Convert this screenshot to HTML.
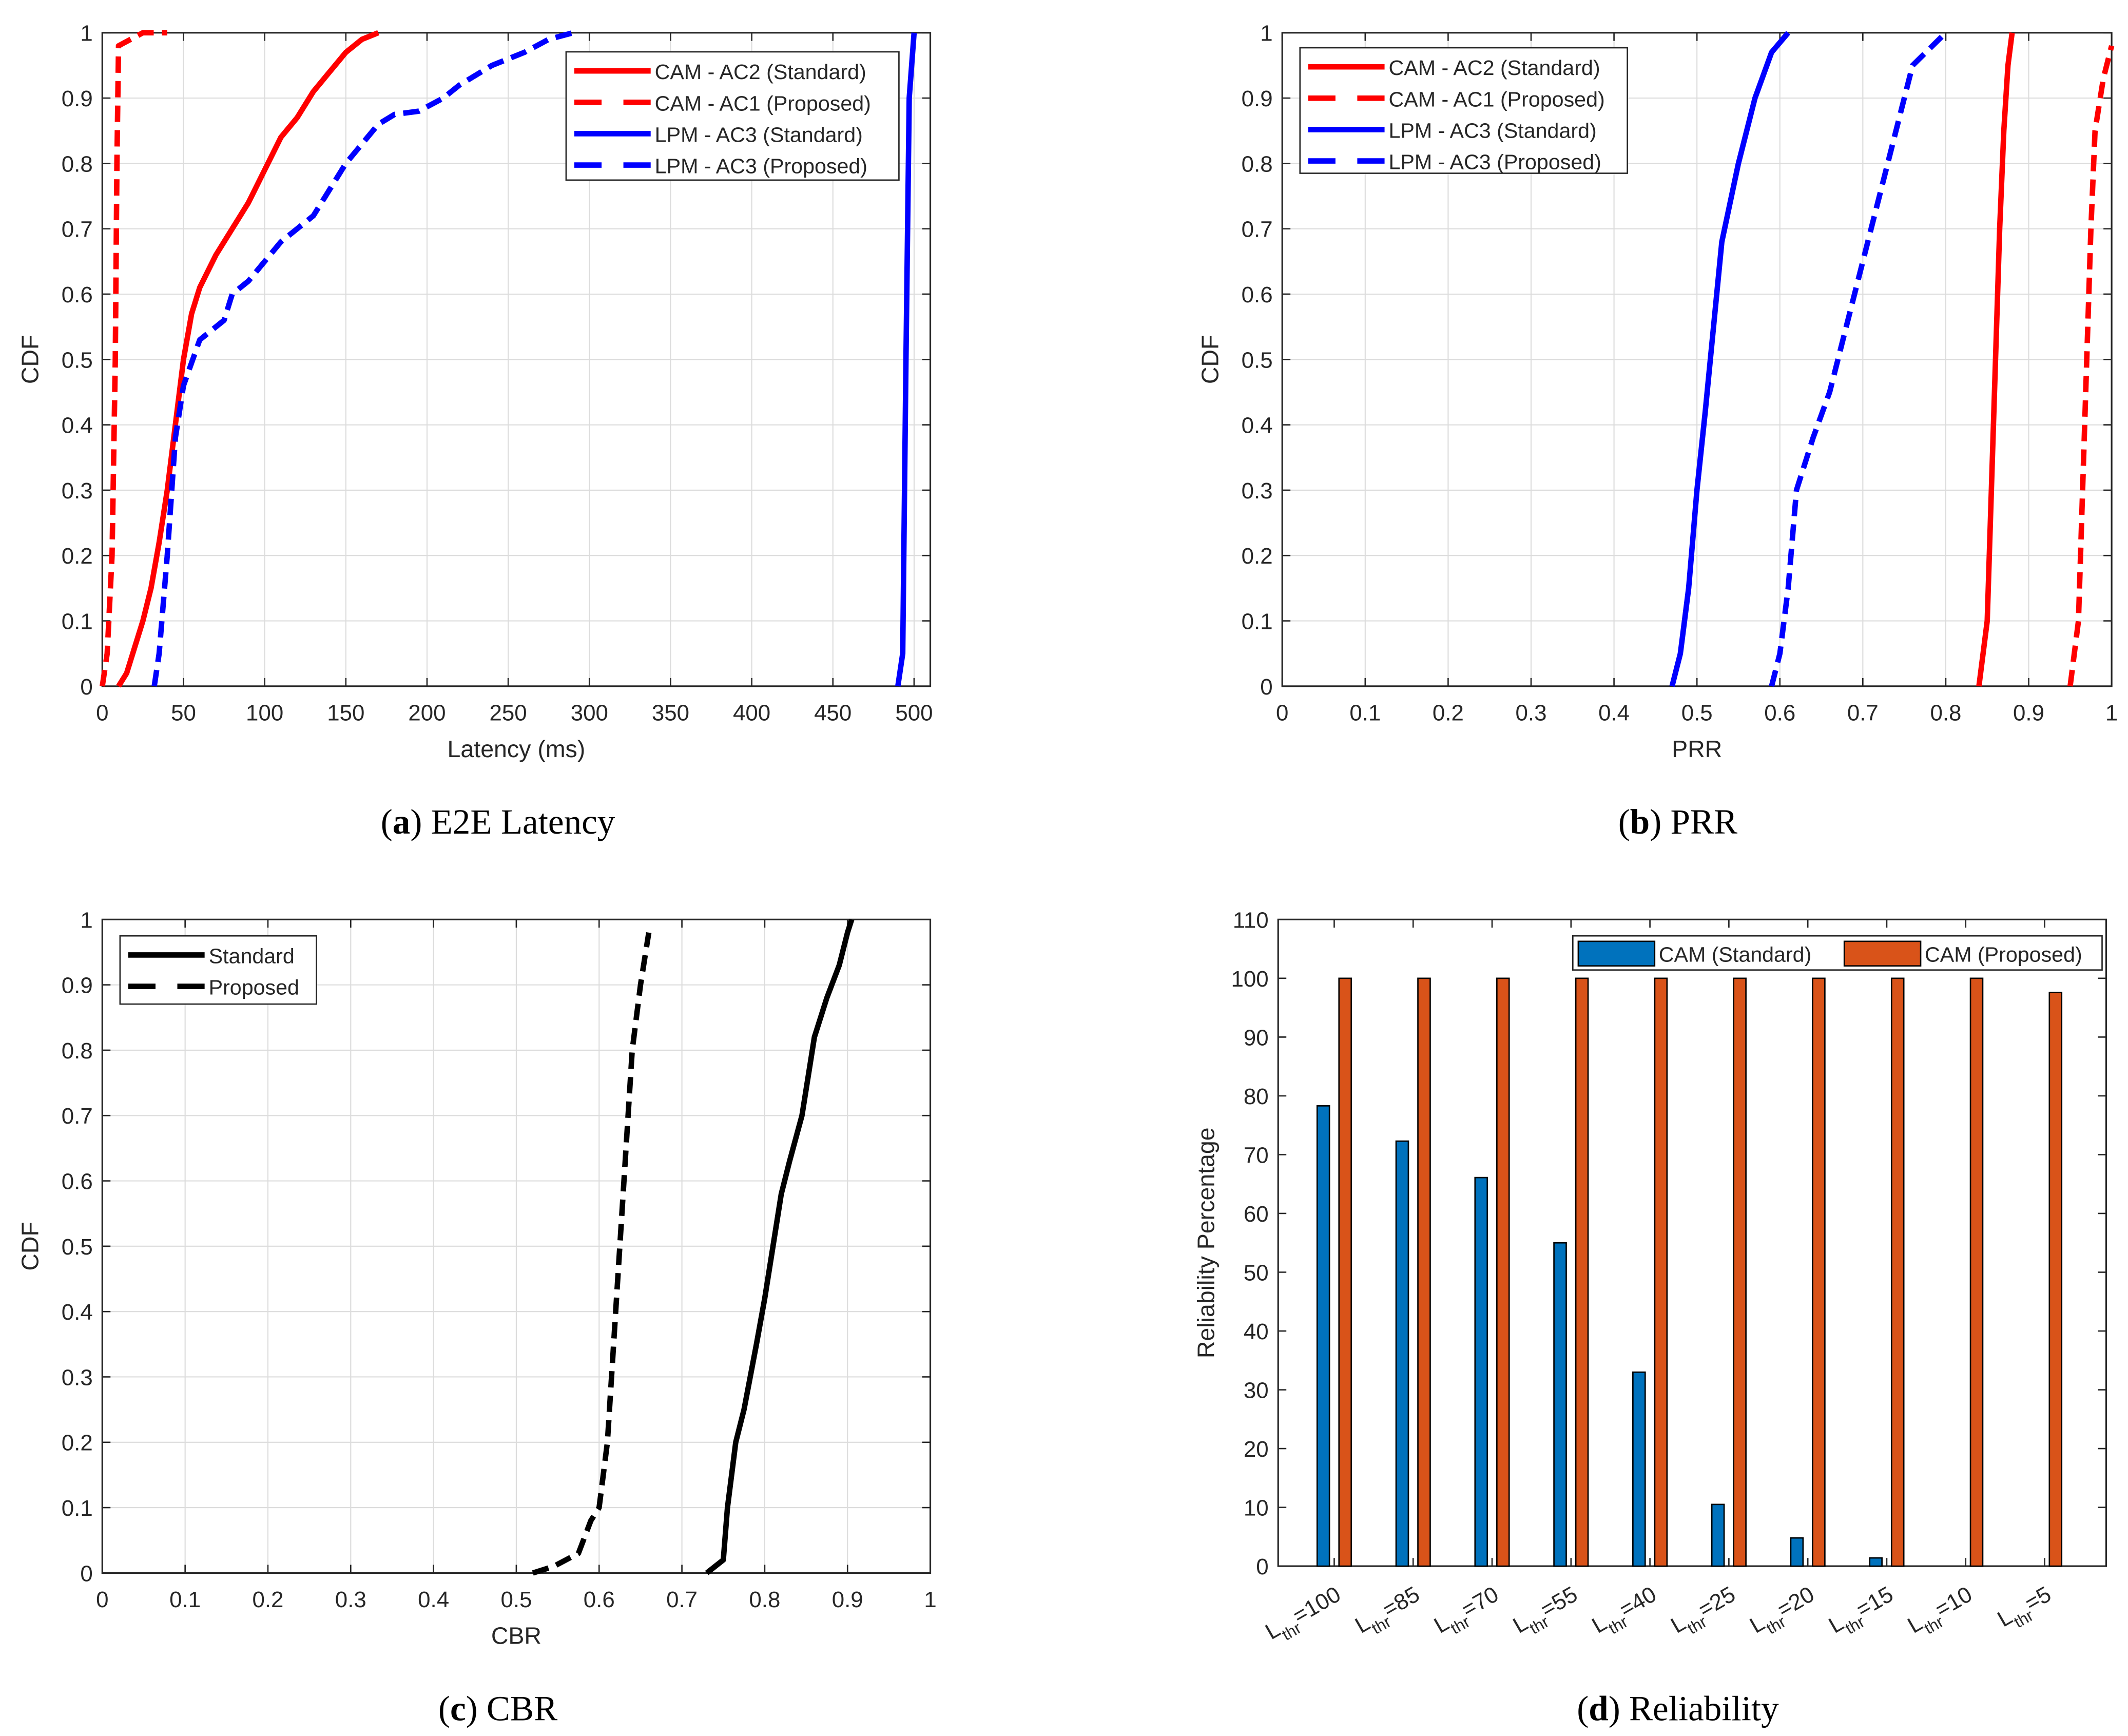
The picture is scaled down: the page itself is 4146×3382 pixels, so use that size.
<!DOCTYPE html>
<html><head><meta charset="utf-8"><style>
html,body{margin:0;padding:0;background:#fff;}
svg{display:block;}
text{font-family:"Liberation Sans",sans-serif;fill:#262626;}
.cap{font-family:"Liberation Serif",serif;fill:#000;font-size:26px;}
</style></head><body>
<svg id="fig" width="4146" height="3382" viewBox="0 0 1560 1272.5" preserveAspectRatio="none" xmlns="http://www.w3.org/2000/svg">
<text class="cap" x="365" y="611" text-anchor="middle">(<tspan font-weight="bold">a</tspan>) E2E Latency</text>
<text class="cap" x="1230" y="611" text-anchor="middle">(<tspan font-weight="bold">b</tspan>) PRR</text>
<text class="cap" x="365" y="1261" text-anchor="middle">(<tspan font-weight="bold">c</tspan>) CBR</text>
<text class="cap" x="1230" y="1261" text-anchor="middle">(<tspan font-weight="bold">d</tspan>) Reliability</text>
</svg>
<script>
// ---- data (a) latency ----
const aStdX=[10,15,20,25,30,35,40,45,50,55,60,70,80,90,100,110,120,130,140,150,160,170];
const aStdY=[0,0.02,0.06,0.1,0.15,0.22,0.3,0.4,0.5,0.57,0.61,0.66,0.7,0.74,0.79,0.84,0.87,0.91,0.94,0.97,0.99,1];
const aPropX=[0,3,6,8,9,10,25,40];
const aPropY=[0,0.05,0.2,0.5,0.8,0.98,1,1];
const aLpmStdX=[490,493,495,497,500];
const aLpmStdY=[0,0.05,0.5,0.9,1];
const aLpmPropX=[32,35,40,45,50,60,75,80,90,100,110,120,130,140,150,160,170,180,195,210,220,240,260,275,290];
const aLpmPropY=[0,0.05,0.2,0.38,0.46,0.53,0.56,0.6,0.62,0.65,0.68,0.7,0.72,0.76,0.8,0.83,0.86,0.875,0.88,0.9,0.92,0.95,0.97,0.99,1];
// ---- data (b) PRR ----
const bLpmStdX=[0.47,0.48,0.49,0.5,0.51,0.52,0.53,0.55,0.57,0.59,0.61];
const bLpmStdY=[0,0.05,0.15,0.3,0.42,0.55,0.68,0.8,0.9,0.97,1];
const bLpmPropX=[0.59,0.6,0.61,0.62,0.64,0.66,0.68,0.7,0.72,0.74,0.76,0.8];
const bLpmPropY=[0,0.05,0.15,0.3,0.38,0.45,0.55,0.65,0.75,0.85,0.95,1];
const bCamStdX=[0.84,0.85,0.855,0.86,0.865,0.87,0.875,0.88];
const bCamStdY=[0,0.1,0.3,0.5,0.7,0.85,0.95,1];
const bCamPropX=[0.95,0.96,0.965,0.97,0.975,0.98,0.99,1.0];
const bCamPropY=[0,0.1,0.3,0.5,0.7,0.85,0.93,0.98];
// ---- data (c) CBR ----
const cStdX=[0.73,0.75,0.755,0.765,0.775,0.79,0.8,0.81,0.82,0.83,0.845,0.855,0.86,0.875,0.89,0.9,0.905];
const cStdY=[0,0.02,0.1,0.2,0.25,0.35,0.42,0.5,0.58,0.63,0.7,0.78,0.82,0.88,0.93,0.98,1];
const cPropX=[0.52,0.545,0.575,0.59,0.6,0.61,0.615,0.62,0.625,0.63,0.635,0.64,0.65,0.66];
const cPropY=[0,0.01,0.03,0.08,0.1,0.2,0.3,0.4,0.5,0.6,0.7,0.8,0.9,0.98];
// ---- data (d) reliability ----
const dCats=["=100","=85","=70","=55","=40","=25","=20","=15","=10","=5"];
const dStd=[78.3,72.3,66.1,55,33,10.5,4.8,1.4,0,0];
const dProp=[100,100,100,100,100,100,100,100,100,97.6];
const ticksA=[0,50,100,150,200,250,300,350,400,450,500];
const ticks01=[0,0.1,0.2,0.3,0.4,0.5,0.6,0.7,0.8,0.9,1];
const ticksD=[0,10,20,30,40,50,60,70,80,90,100,110];

const NS="http://www.w3.org/2000/svg";
const svg=document.getElementById('fig');
function mk(tag,attrs,parent){const e=document.createElementNS(NS,tag);for(const k in attrs)e.setAttribute(k,attrs[k]);(parent||svg).appendChild(e);return e;}

function axes(name,L,R,T,B,xmin,xmax,ymin,ymax,xt,yt,xlabel,ylabel,opts){
  const g=mk('g',{});
  
  
  const sx=v=>L+(v-xmin)/(xmax-xmin)*(R-L), sy=v=>B-(v-ymin)/(ymax-ymin)*(B-T);
  if(!opts.nogrid){
    xt.forEach(v=>{const l=mk('line',{x1:sx(v),x2:sx(v),y1:T,y2:B,stroke:'#dcdcdc','stroke-width':0.8},g);});
    yt.forEach(v=>{const l=mk('line',{x1:L,x2:R,y1:sy(v),y2:sy(v),stroke:'#dcdcdc','stroke-width':0.8},g);});
  }
  const box=mk('rect',{x:L,y:T,width:R-L,height:B-T,fill:'none',stroke:'#262626','stroke-width':1.2},g);
  
  
  yt.forEach(v=>{
    mk('line',{x1:L,x2:L+6,y1:sy(v),y2:sy(v),stroke:'#262626','stroke-width':1},g);
    mk('line',{x1:R,x2:R-6,y1:sy(v),y2:sy(v),stroke:'#262626','stroke-width':1},g);
    const t=mk('text',{x:L-7,y:sy(v)+6,'text-anchor':'end','font-size':16.5},g);t.textContent=String(v);
    
    
  });
  if(!opts.catx){
    xt.forEach(v=>{
      mk('line',{x1:sx(v),x2:sx(v),y1:B,y2:B-6,stroke:'#262626','stroke-width':1},g);
      mk('line',{x1:sx(v),x2:sx(v),y1:T,y2:T+6,stroke:'#262626','stroke-width':1},g);
      const t=mk('text',{x:sx(v),y:B+25,'text-anchor':'middle','font-size':16.5},g);t.textContent=String(v);
      
      
    });
  }
  if(xlabel){const t=mk('text',{x:(L+R)/2,y:B+52,'text-anchor':'middle','font-size':17.5},g);t.textContent=xlabel;
    
    }
  const yx=opts.ylx||(L-48);
  const t=mk('text',{x:yx,y:(T+B)/2,'text-anchor':'middle','font-size':17.5,transform:`rotate(-90 ${yx} ${(T+B)/2})`},g);t.textContent=ylabel;
  
  
  return {g,sx,sy};
}
function series(ax,xs,ys,color,dash,name){
  const d=xs.map((x,i)=>(i?'L':'M')+ax.sx(x).toFixed(2)+' '+ax.sy(ys[i]).toFixed(2)).join(' ');
  const p=mk('path',{d:d,fill:'none',stroke:color,'stroke-width':4,'stroke-dasharray':dash?'12 6':'none','stroke-linejoin':'round'},ax.g);
  
  
}
function legend(name,x,y,w,h,items){
  const g=mk('g',{});
  
  
  mk('rect',{x:x,y:y,width:w,height:h,fill:'#fff',stroke:'#262626','stroke-width':1},g);
  items.forEach((it,i)=>{
    const yy=y+14+i*23;
    const l=mk('line',{x1:x+6,x2:x+62,y1:yy,y2:yy,stroke:it[1],'stroke-width':4,'stroke-dasharray':it[2]?'20 16':'none'},g);
    
    
    const t=mk('text',{x:x+65,y:yy+6,'font-size':15.5},g);t.textContent=it[0];
    
    
  });
}
// (a)
const A=axes('chart-latency',75,682,24,503,0,510,0,1,ticksA,ticks01,'Latency (ms)','CDF',{ylx:28});
series(A,aStdX,aStdY,'#ff0000',false,'cam-ac2-standard-line');
series(A,aPropX,aPropY,'#ff0000',true,'cam-ac1-proposed-line');
series(A,aLpmStdX,aLpmStdY,'#0000ff',false,'lpm-ac3-standard-line');
series(A,aLpmPropX,aLpmPropY,'#0000ff',true,'lpm-ac3-proposed-line');
legend('legend-latency',415,38,244,94,[['CAM - AC2 (Standard)','#ff0000',false],['CAM - AC1 (Proposed)','#ff0000',true],['LPM - AC3 (Standard)','#0000ff',false],['LPM - AC3 (Proposed)','#0000ff',true]]);
// (b)
const Bx=axes('chart-prr',940,1548,24,503,0,1,0,1,ticks01,ticks01,'PRR','CDF',{ylx:893});
series(Bx,bLpmStdX,bLpmStdY,'#0000ff',false,'lpm-ac3-standard-line');
series(Bx,bLpmPropX,bLpmPropY,'#0000ff',true,'lpm-ac3-proposed-line');
series(Bx,bCamStdX,bCamStdY,'#ff0000',false,'cam-ac2-standard-line');
series(Bx,bCamPropX,bCamPropY,'#ff0000',true,'cam-ac1-proposed-line');
legend('legend-prr',953,35,240,92,[['CAM - AC2 (Standard)','#ff0000',false],['CAM - AC1 (Proposed)','#ff0000',true],['LPM - AC3 (Standard)','#0000ff',false],['LPM - AC3 (Proposed)','#0000ff',true]]);
// (c)
const C=axes('chart-cbr',75,682,674,1153,0,1,0,1,ticks01,ticks01,'CBR','CDF',{ylx:28});
series(C,cStdX,cStdY,'#000000',false,'cbr-standard-line');
series(C,cPropX,cPropY,'#000000',true,'cbr-proposed-line');
legend('legend-cbr',88,686,144,50,[['Standard','#000',false],['Proposed','#000',true]]);
// (d)
const D=axes('chart-reliability',937,1544,674,1148,0.29,10.78,0,110,[],ticksD,null,'Reliability Percentage',{nogrid:true,catx:true,ylx:890});
dCats.forEach((c,i)=>{
  const cx=D.sx(i+1);
  mk('line',{x1:cx,x2:cx,y1:1148,y2:1142,stroke:'#262626','stroke-width':1},D.g);
  mk('line',{x1:cx,x2:cx,y1:674,y2:680,stroke:'#262626','stroke-width':1},D.g);
  const b1=mk('rect',{x:cx-12.5,y:D.sy(dStd[i]),width:9,height:D.sy(0)-D.sy(dStd[i]),fill:'#0072bd',stroke:'#000','stroke-width':1},D.g);
  
  
  const b2=mk('rect',{x:cx+3.5,y:D.sy(dProp[i]),width:9,height:D.sy(0)-D.sy(dProp[i]),fill:'#d95319',stroke:'#000','stroke-width':1},D.g);
  
  
  const tx=cx+6, ty=1172;
  const t=mk('text',{x:tx,y:ty,'text-anchor':'end','font-size':16.5,transform:`rotate(-30 ${tx} ${ty})`},D.g);
  
  
  const s1=mk('tspan',{},t);s1.textContent='L';
  const s2=mk('tspan',{dy:6,'font-size':12},t);s2.textContent='thr';
  const s3=mk('tspan',{dy:-6},t);s3.textContent=c;
});
(function(){
  const g=mk('g',{});
  
  
  mk('rect',{x:1153,y:686,width:388,height:25,fill:'#fff',stroke:'#262626','stroke-width':1},g);
  mk('rect',{x:1157,y:690,width:56,height:18,fill:'#0072bd',stroke:'#000','stroke-width':1},g);
  let t=mk('text',{x:1216,y:705,'font-size':15.5},g);t.textContent='CAM (Standard)';
  
  
  mk('rect',{x:1352,y:690,width:56,height:18,fill:'#d95319',stroke:'#000','stroke-width':1},g);
  t=mk('text',{x:1411,y:705,'font-size':15.5},g);t.textContent='CAM (Proposed)';
  
  
})();
</script>
</body></html>
